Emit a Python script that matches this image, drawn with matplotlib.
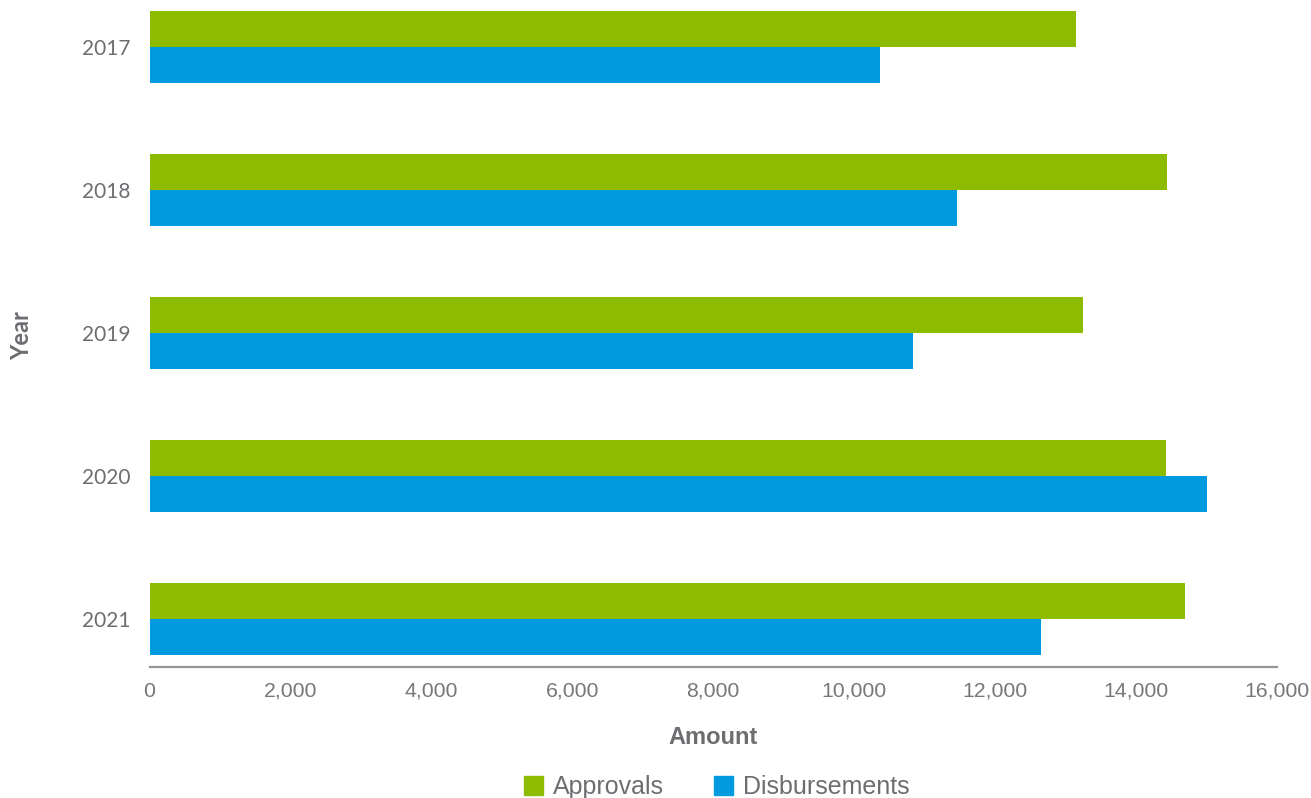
import matplotlib
matplotlib.use("Agg")
import matplotlib.pyplot as plt
from matplotlib.patches import Patch
import numpy as np

years = ["2017", "2018", "2019", "2020", "2021"]
approvals = [13150, 14450, 13250, 14430, 14700]
disbursements = [10370, 11460, 10840, 15010, 12650]
xticks = [0, 2000, 4000, 6000, 8000, 10000, 12000, 14000, 16000]

GREEN = "#8DBB00"
BLUE = "#009BDE"
GRAY = "#6D6E71"
TICKGRAY = "#77787B"

W, H = 1311, 798
fig = plt.figure(figsize=(W / 100, H / 100), dpi=100)
ax = fig.add_axes([149.5 / W, 1 - 667 / H, 1127 / W, 667 / H])

y = np.arange(len(years))
bh = 0.252
ax.barh(y - bh / 2, approvals, height=bh, color=GREEN, label="Approvals")
ax.barh(y + bh / 2, disbursements, height=bh, color=BLUE, label="Disbursements")

ax.set_ylim(4 + 48 / 143, -47 / 143)
ax.set_xlim(0, 16000)
ax.set_xticks(xticks)
ax.set_xticklabels([f"{v:,}" for v in xticks], fontfamily="Liberation Sans",
                   fontsize=15.3, color=TICKGRAY)
ax.set_yticks(y)
ax.set_yticklabels(years, fontfamily="Lato", fontsize=15, color=GRAY)
ax.tick_params(axis="both", length=0)
ax.tick_params(axis="x", pad=10.5)
ax.tick_params(axis="y", pad=13.5)

for s in ["top", "right", "left"]:
    ax.spines[s].set_visible(False)
ax.spines["bottom"].set_color("#939598")
ax.spines["bottom"].set_linewidth(1.6)

fig.text(713 / W, 1 - 738 / H, "Amount", ha="center", va="center",
         fontfamily="Liberation Sans", fontweight="bold", fontsize=17, color=GRAY)
fig.text(22 / W, 1 - 336 / H, "Year", ha="center", va="center", rotation=90,
         fontfamily="Lato", fontweight="bold", fontsize=17, color=GRAY)

handles = [Patch(color=GREEN, label="Approvals"), Patch(color=BLUE, label="Disbursements")]
leg = fig.legend(handles=handles, loc="center", bbox_to_anchor=(717 / W, 1 - 787 / H),
                 ncol=2, frameon=False, handlelength=0.76, handleheight=0.76,
                 handletextpad=0.4, columnspacing=2.0,
                 prop={"family": "Liberation Sans", "size": 18})
for t in leg.get_texts():
    t.set_color(GRAY)

fig.savefig("out.png", dpi=100)
